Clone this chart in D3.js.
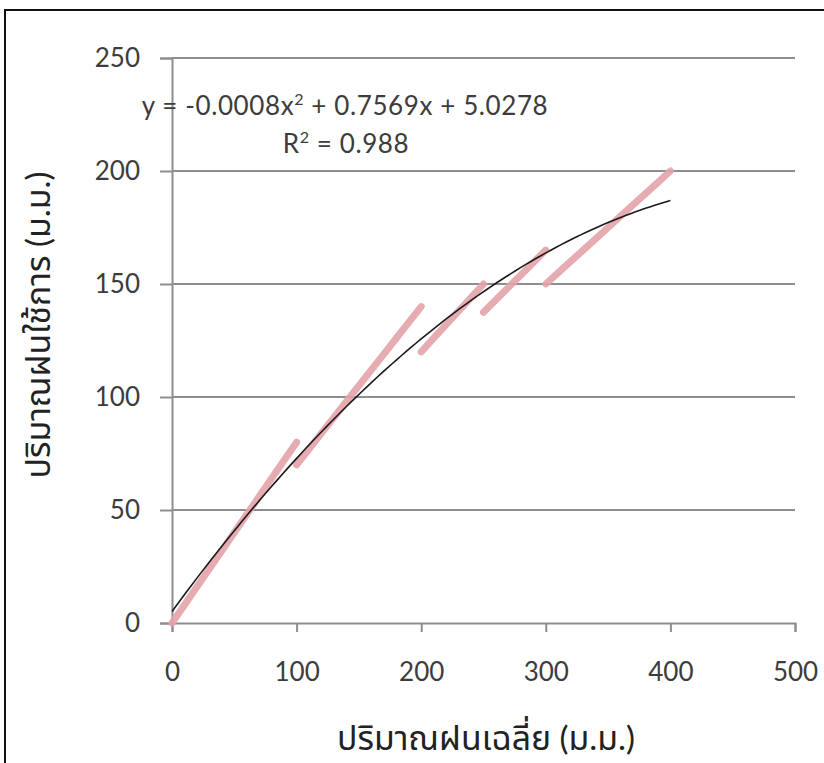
<!DOCTYPE html>
<html>
<head>
<meta charset="utf-8">
<script src="https://cdn.jsdelivr.net/npm/d3@7"></script>
<style>
  body { margin: 0; background: #fff; }
  svg { display: block; }
</style>
</head>
<body>
<div id="chart"></div>
<script>
// Rainfall (mm) vs effective rainfall (mm), one array per piece
const rain1 = [0, 10, 20, 30, 40, 50, 60, 70, 80, 90, 100]
const eff1 = [0, 8, 16, 24, 32, 40, 48, 56, 64, 72, 80]
const rain2 = [100, 110, 120, 130, 140, 150, 160, 170, 180, 190, 200]
const eff2 = [70, 77, 84, 91, 98, 105, 112, 119, 126, 133, 140]
const rain3 = [200, 210, 220, 230, 240, 250]
const eff3 = [120, 126, 132, 138, 144, 150]
const rain4 = [250, 260, 270, 280, 290, 300]
const eff4 = [137.5, 143, 148.5, 154, 159.5, 165]
const rain5 = [300, 310, 320, 330, 340, 350, 360, 370, 380, 390, 400]
const eff5 = [150, 155, 160, 165, 170, 175, 180, 185, 190, 195, 200]

const xTicks = [0, 100, 200, 300, 400, 500]
const yTicks = [0, 50, 100, 150, 200, 250]

const xTitle = "ปริมาณฝนเฉลี่ย (ม.ม.)"
const yTitle = "ปริมาณฝนใช้การ (ม.ม.)"
const eqLabel = ["y = -0.0008x", "2", " + 0.7569x + 5.0278"]
const r2Label = ["R", "2", " = 0.988"]

const width = 824, height = 763
const margin = {top: 58, right: 29, bottom: 140, left: 172}
const font = "Lato, 'Noto Sans Thai', 'DejaVu Sans', sans-serif"
const textColor = "#3c3c3c", gridColor = "#8e8e8e"

const pieces = [[rain1, eff1], [rain2, eff2], [rain3, eff3], [rain4, eff4], [rain5, eff5]]
    .map(([xs, ys]) => xs.map((x, i) => ({x: x, y: ys[i]})))
const allPoints = pieces.flat()

// quadratic least-squares trend (what the spreadsheet trendline does)
function quadFit(pts) {
    let S = [[0, 0, 0], [0, 0, 0], [0, 0, 0]], T = [0, 0, 0]
    pts.forEach(p => {
        const v = [1, p.x, p.x * p.x]
        for (let i = 0; i < 3; i++) {
            T[i] += v[i] * p.y
            for (let j = 0; j < 3; j++) S[i][j] += v[i] * v[j]
        }
    })
    const M = S.map((r, i) => r.concat([T[i]]))
    for (let c = 0; c < 3; c++) {
        for (let r = c + 1; r < 3; r++) {
            const f = M[r][c] / M[c][c]
            for (let k = c; k < 4; k++) M[r][k] -= f * M[c][k]
        }
    }
    const b = [0, 0, 0]
    for (let r = 2; r >= 0; r--) {
        let s = M[r][3]
        for (let k = r + 1; k < 3; k++) s -= M[r][k] * b[k]
        b[r] = s / M[r][r]
    }
    return b
}
const coef = quadFit(allPoints)

const svg = d3.select("#chart").append("svg")
    .attr("width", width)
    .attr("height", height)
    .attr("font-family", font)

// outer frame (cut off at right and bottom)
svg.append("rect")
    .attr("x", 5).attr("y", 10)
    .attr("width", 840).attr("height", 780)
    .attr("fill", "none")
    .attr("stroke", "#111")
    .attr("stroke-width", 2)

const x = d3.scaleLinear().domain([0, 500]).range([margin.left, width - margin.right])
const y = d3.scaleLinear().domain([0, 250]).range([height - margin.bottom, margin.top])

// horizontal gridlines
svg.append("g")
    .selectAll("line")
    .data(yTicks.filter(d => d > 0))
    .join("line")
    .attr("x1", x(0)).attr("x2", x(500))
    .attr("y1", d => y(d)).attr("y2", d => y(d))
    .attr("stroke", gridColor)
    .attr("stroke-width", 2)

// y axis
const yAxis = svg.append("g")
    .attr("transform", `translate(${x(0)},0)`)
    .call(d3.axisLeft(y).tickValues(yTicks).tickSize(12).tickPadding(20).tickFormat(d3.format("d")))
yAxis.select(".domain").attr("stroke", gridColor).attr("stroke-width", 2)
yAxis.selectAll(".tick line").attr("stroke", gridColor).attr("stroke-width", 2)
yAxis.selectAll(".tick text")
    .attr("fill", textColor)
    .attr("font-size", 26)
    .attr("font-family", font)

// x axis
const xAxis = svg.append("g")
    .attr("transform", `translate(0,${y(0)})`)
    .call(d3.axisBottom(x).tickValues(xTicks).tickSize(9).tickFormat(d3.format("d")))
xAxis.select(".domain").attr("stroke", gridColor).attr("stroke-width", 2)
xAxis.selectAll(".tick line").attr("stroke", gridColor).attr("stroke-width", 2)
xAxis.selectAll(".tick text")
    .attr("y", 58)
    .attr("dy", null)
    .attr("fill", textColor)
    .attr("font-size", 26)
    .attr("font-family", font)

// the dense data markers form a pink band along each piece
const band = d3.line().x(d => x(d.x)).y(d => y(d.y))
svg.append("g")
    .selectAll("path")
    .data(pieces)
    .join("path")
    .attr("d", band)
    .attr("fill", "none")
    .attr("stroke", "#e3a3a9")
    .attr("stroke-width", 7)
    .attr("stroke-linecap", "round")
    .attr("opacity", 0.9)

// trendline
const trendX = d3.range(0, 401, 4)
svg.append("path")
    .datum(trendX)
    .attr("d", d3.line()
        .x(d => x(d))
        .y(d => y(coef[0] + coef[1] * d + coef[2] * d * d)))
    .attr("fill", "none")
    .attr("stroke", "#1a1a1a")
    .attr("stroke-width", 1.6)

// equation labels (two centred lines like the spreadsheet label)
function supText(parts, cx, ty) {
    const t = svg.append("text")
        .attr("x", cx).attr("y", ty)
        .attr("text-anchor", "middle")
        .attr("fill", textColor)
        .attr("font-size", 26)
        .attr("letter-spacing", 0.6)
    t.append("tspan").text(parts[0])
    t.append("tspan").text(parts[1]).attr("dy", -10).attr("font-size", 16)
    t.append("tspan").text(parts[2]).attr("dy", 10)
}
supText(eqLabel, 345, 115)
supText(r2Label, 346, 153)

// axis titles: size them to the span seen in the picture
const yt = svg.append("text")
    .attr("transform", `translate(50,325) rotate(-90)`)
    .attr("text-anchor", "middle")
    .attr("fill", "#222")
    .attr("font-size", 30)
    .text(yTitle)
const titleSize = 30 * 307 / yt.node().getComputedTextLength()
yt.attr("font-size", titleSize)

svg.append("text")
    .attr("x", 486)
    .attr("y", 750)
    .attr("text-anchor", "middle")
    .attr("fill", "#222")
    .attr("font-size", titleSize)
    .text(xTitle)
</script>
</body>
</html>
